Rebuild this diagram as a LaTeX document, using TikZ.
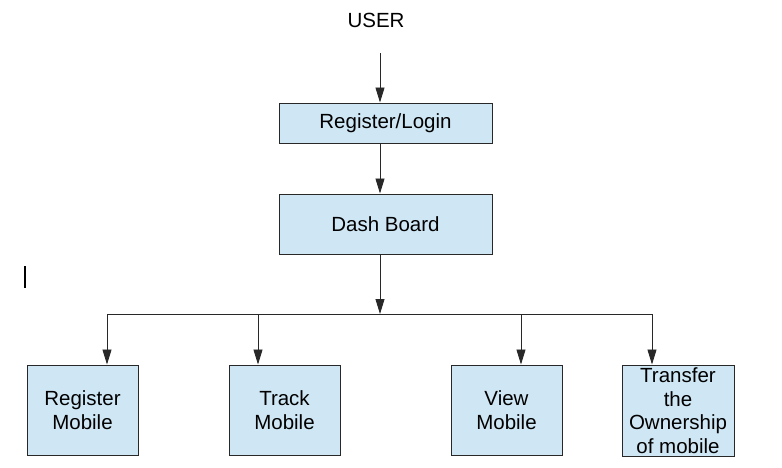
\documentclass[tikz,border=0pt]{standalone}
\usepackage{fontspec}
\setmainfont{Liberation Sans}
\usetikzlibrary{arrows.meta}
\definecolor{boxfill}{RGB}{207,231,245}
\definecolor{edge}{RGB}{40,40,40}
\tikzset{
  x=1pt,y=1pt,
  lbl/.style={font=\fontsize{20.5}{23.6}\selectfont, inner sep=0pt, align=center},
  blk/.style={lbl, draw=edge, fill=boxfill, line width=1pt},
  arr/.style={draw=edge, line width=0.9pt, -{Triangle[length=15pt,width=9pt]}},
  ln/.style={draw=edge, line width=0.9pt}
}
\begin{document}
\begin{tikzpicture}
\useasboundingbox (0,0) rectangle (782,-467);
\fill[white] (0,0) rectangle (782,-467);
\node[lbl] (user) at (376,-20) {USER};
\coordinate (ax) at (380,0);
\coordinate (ustart) at (380,-53);
\node[blk, minimum width=213pt, minimum height=40pt] (login) at (385.5,-123) {Register/Login};
\node[blk, minimum width=213pt, minimum height=60pt] (dash) at (385.5,-224) {Dash Board};
\coordinate (bus) at (380,-314);
\coordinate (busL) at (107,-314);
\coordinate (busR) at (652,-314);
\coordinate (d1) at (107,-314);
\coordinate (d2) at (258,-314);
\coordinate (d3) at (521,-314);
\coordinate (d4) at (652,-314);
\node[blk, minimum width=111pt, minimum height=90pt] (rm) at (82.5,-410) {Register\\Mobile};
\node[blk, minimum width=111pt, minimum height=90pt] (tm) at (284.5,-410) {Track\\Mobile};
\node[blk, minimum width=111pt, minimum height=90pt] (vm) at (506.5,-410) {View\\Mobile};
\node[blk, minimum width=112pt, minimum height=91pt] (tr) at (678,-410.5) {Transfer\\the\\Ownership\\of mobile};
\draw[arr] (ustart) -- (login.north -| ax);
\draw[arr] (login.south -| ax) -- (dash.north -| ax);
\draw[arr] (dash.south -| ax) -- (bus);
\draw[ln] (busL) -- (busR);
\draw[arr] (d1) -- (d1 |- rm.north);
\draw[arr] (d2) -- (d2 |- tm.north);
\draw[arr] (d3) -- (d3 |- vm.north);
\draw[arr] (d4) -- (d4 |- tr.north);
\draw[black, line width=1.3pt] (25,-266) -- (25,-288);
\end{tikzpicture}
\end{document}
